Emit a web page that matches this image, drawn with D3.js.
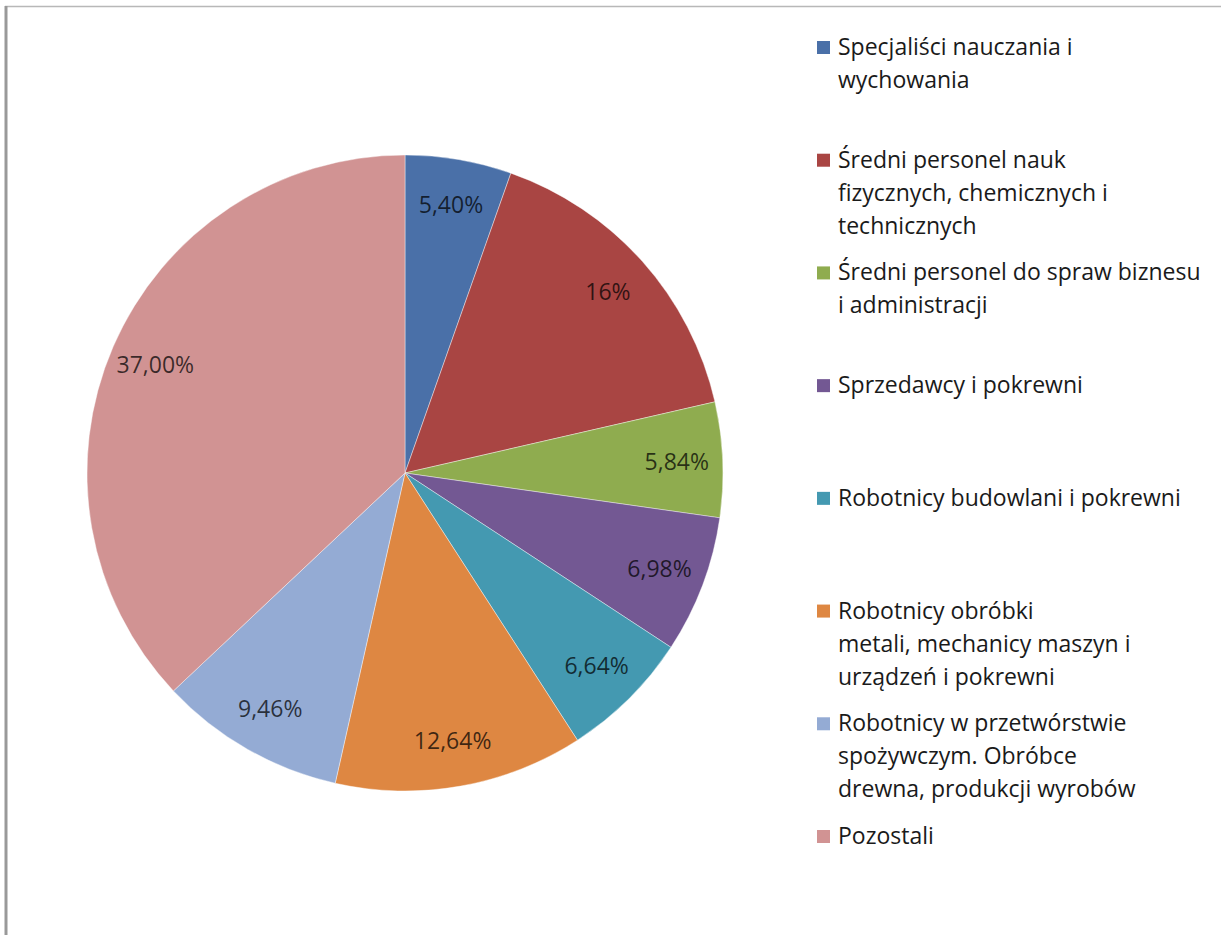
<!DOCTYPE html>
<html>
<head>
<meta charset="utf-8">
<script src="https://cdn.jsdelivr.net/npm/d3@7"></script>
<style>
  body { margin: 0; background: #fff; }
  text { font-family: "Open Sans", Lato, sans-serif; }
</style>
</head>
<body>
<div id="chart"></div>
<script>
// dane
const categories = [
  ["Specjaliści nauczania i", "wychowania"],
  ["Średni personel nauk", "fizycznych, chemicznych i", "technicznych"],
  ["Średni personel do spraw biznesu", "i administracji"],
  ["Sprzedawcy i pokrewni"],
  ["Robotnicy budowlani i pokrewni"],
  ["Robotnicy obróbki", "metali, mechanicy maszyn i", "urządzeń i pokrewni"],
  ["Robotnicy w przetwórstwie", "spożywczym. Obróbce", "drewna, produkcji wyrobów"],
  ["Pozostali"]
];
const values = [5.40, 16, 5.84, 6.98, 6.64, 12.64, 9.46, 37.00];
const valueLabels = ["5,40%", "16%", "5,84%", "6,98%", "6,64%", "12,64%", "9,46%", "37,00%"];
const colors = ["#4a70a8", "#a94543", "#8fac4f", "#735893", "#4499b1", "#de8742", "#94abd4", "#d19393"];

const width = 1221, height = 935;
const cx = 405, cy = 473, radius = 318;

const svg = d3.select("#chart")
  .append("svg")
  .attr("width", width)
  .attr("height", height);

// ramka
svg.append("line")
  .attr("x1", 5).attr("x2", width)
  .attr("y1", 6.5).attr("y2", 6.5)
  .style("stroke", "#b8b8b8")
  .style("stroke-width", 1.5);
svg.append("line")
  .attr("x1", 6).attr("x2", 6)
  .attr("y1", 6).attr("y2", height)
  .style("stroke", "#999")
  .style("stroke-width", 3);

const pie = d3.pie().sort(null).value((d) => d);
const arcs = pie(values);

const arc = d3.arc().innerRadius(0).outerRadius(radius);
const labelArc = d3.arc().innerRadius(272).outerRadius(272);

const g = svg.append("g")
  .attr("transform", "translate(" + cx + "," + cy + ")");

g.selectAll("path")
  .data(arcs)
  .enter()
  .append("path")
  .attr("d", arc)
  .style("fill", (d, i) => colors[i])
  .style("stroke", "#fff")
  .style("stroke-opacity", 0.4)
  .style("stroke-width", 1);

g.selectAll("text.label")
  .data(arcs)
  .enter()
  .append("text")
  .attr("class", "label")
  .attr("transform", (d) => "translate(" + labelArc.centroid(d) + ")")
  .attr("dy", "0.35em")
  .attr("text-anchor", "middle")
  .style("font-size", "23px")
  .style("fill", "#000")
  .style("fill-opacity", 0.72)
  .text((d, i) => valueLabels[i]);

// legenda
const legendY = d3.scaleLinear().domain([0, 7]).range([47, 836]);

const legend = svg.selectAll("g.legend")
  .data(categories)
  .enter()
  .append("g")
  .attr("class", "legend")
  .attr("transform", (d, i) => "translate(817," + legendY(i) + ")");

legend.append("rect")
  .attr("x", 0)
  .attr("y", -6)
  .attr("width", 13)
  .attr("height", 13)
  .style("fill", (d, i) => colors[i]);

legend.each(function (lines) {
  const t = d3.select(this).append("text")
    .attr("x", 21)
    .attr("y", 0)
    .style("font-size", "23px")
    .style("fill", "#1a1a1a");
  lines.forEach(function (line, j) {
    t.append("tspan")
      .attr("x", 21)
      .attr("y", j * 33)
      .attr("dy", "0.35em")
      .text(line);
  });
});
</script>
</body>
</html>
